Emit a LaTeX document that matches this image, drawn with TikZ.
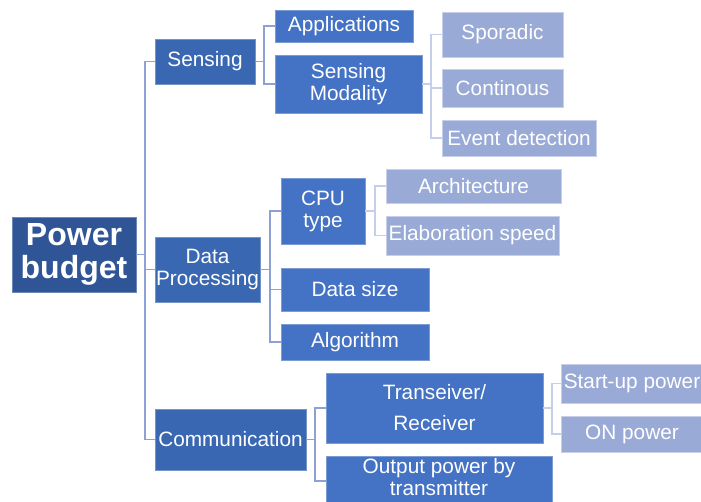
\documentclass[tikz,border=0pt]{standalone}
\usepackage{fontspec}
\setmainfont{Liberation Sans}
\definecolor{pbblue}{HTML}{2F5597}
\definecolor{lvone}{HTML}{3A67B2}
\definecolor{lvtwo}{HTML}{4472C4}
\definecolor{lvthree}{HTML}{9AAAD6}
\definecolor{trunkline}{HTML}{8EA1D5}
\definecolor{leafline}{HTML}{C5CEEA}
\tikzset{
  box/.style={rectangle, anchor=north west, inner sep=0pt, outer sep=0pt,
    text=white, align=center, line width=0.8pt,
    font=\fontsize{20.8}{22}\selectfont},
  rootbox/.style={box, fill=pbblue, draw=pbblue!70!white,
    font=\fontsize{32}{33}\selectfont\bfseries},
  onebox/.style={box, fill=lvone, draw=lvone!70!white},
  twobox/.style={box, fill=lvtwo, draw=lvtwo!70!white},
  threebox/.style={box, fill=lvthree, draw=lvthree!55!white},
  conn/.style={draw=trunkline, line width=1.8pt},
  leafconn/.style={draw=leafline, line width=1.8pt},
  sz/.style 2 args={minimum width=#1pt, minimum height=#2pt}
}
\begin{document}
\begin{tikzpicture}[x=1pt, y=-1pt]
\useasboundingbox (0,0) rectangle (701,501);
\clip (0,0) rectangle (701,501);

% root
\node[rootbox, sz={124}{75}] (power) at (12,217) {Power\\budget};

% first level
\node[onebox, sz={100}{45}] (sens) at (155,39) {Sensing};
\node[onebox, sz={105}{65}] (data) at (155,237) {Data\\Processing};
\node[onebox, sz={151}{61}] (comm) at (155,409) {Communication};

% second level
\node[twobox, sz={138}{32}] (app) at (275,10) {Applications};
\node[twobox, sz={147}{58}] (modal) at (275,55) {Sensing\\Modality};
\node[twobox, sz={84}{66}] (cpu) at (281,178) {CPU\\type};
\node[twobox, sz={148}{43}] (dsize) at (281,268) {Data size};
\node[twobox, sz={148}{36}] (algo) at (281,324) {Algorithm};
\node[twobox, sz={217}{70}, font=\fontsize{20.8}{31}\selectfont] (trx) at (326,373) {Transeiver/\\Receiver};
% the last box runs past the lower edge of the page
\fill[lvtwo, draw=lvtwo!70!white, line width=0.8pt] (326,508) -- (326,456) -- (552,456) -- (552,508);
\node[box, sz={226}{42}] (outp) at (326,456) {Output power by\\transmitter};

% third level
\node[threebox, sz={121}{45}] (spor) at (442,12) {Sporadic};
\node[threebox, sz={121}{38}] (cont) at (442,69) {Continous};
\node[threebox, sz={154}{36}] (event) at (442,120) {Event detection};
\node[threebox, sz={175}{34}] (arch) at (386,169) {Architecture};
\node[threebox, sz={173}{39}] (elab) at (386,216) {Elaboration speed};
\node[threebox, sz={142}{39}] (start) at (561,364) {Start-up power};
\node[threebox, sz={142}{36}] (onp) at (561,416) {ON power};

% bus positions
\coordinate (busA) at (145,0);
\coordinate (busB) at (264,0);
\coordinate (busC) at (431,0);
\coordinate (busD) at (270,0);
\coordinate (busE) at (375,0);
\coordinate (busF) at (315,0);
\coordinate (busG) at (552,0);

% root to first level
\draw[conn] (power.east) -- (power.east -| busA);
\draw[conn] (sens.west) -- (sens.west -| busA) -- (comm.west -| busA) -- (comm.west);
\draw[conn] (data.west) -- (data.west -| busA);

% sensing group
\draw[conn] (sens.east) -- (sens.east -| busB);
\draw[conn] (app.west) -- (app.west -| busB) -- (modal.west -| busB) -- (modal.west);

% sensing modality group
\draw[leafconn] (modal.east) -- (modal.east -| busC);
\draw[leafconn] (spor.west) -- (spor.west -| busC) -- (event.west -| busC) -- (event.west);
\draw[leafconn] (cont.west) -- (cont.west -| busC);

% data processing group
\draw[conn] (data.east) -- (data.east -| busD);
\draw[conn] (cpu.west) -- (cpu.west -| busD) -- (algo.west -| busD) -- (algo.west);
\draw[conn] (dsize.west) -- (dsize.west -| busD);

% cpu type group
\draw[leafconn] (cpu.east) -- (cpu.east -| busE);
\draw[leafconn] (arch.west) -- (arch.west -| busE) -- (elab.west -| busE) -- (elab.west);

% communication group
\draw[conn] (comm.east) -- (comm.east -| busF);
\draw[conn] (trx.west) -- (trx.west -| busF) -- ([yshift=-4pt]outp.west -| busF) -- ([yshift=-4pt]outp.west);

% transceiver group
\draw[leafconn] (trx.east) -- (trx.east -| busG);
\draw[leafconn] (start.west) -- (start.west -| busG) -- (onp.west -| busG) -- (onp.west);
\end{tikzpicture}
\end{document}
